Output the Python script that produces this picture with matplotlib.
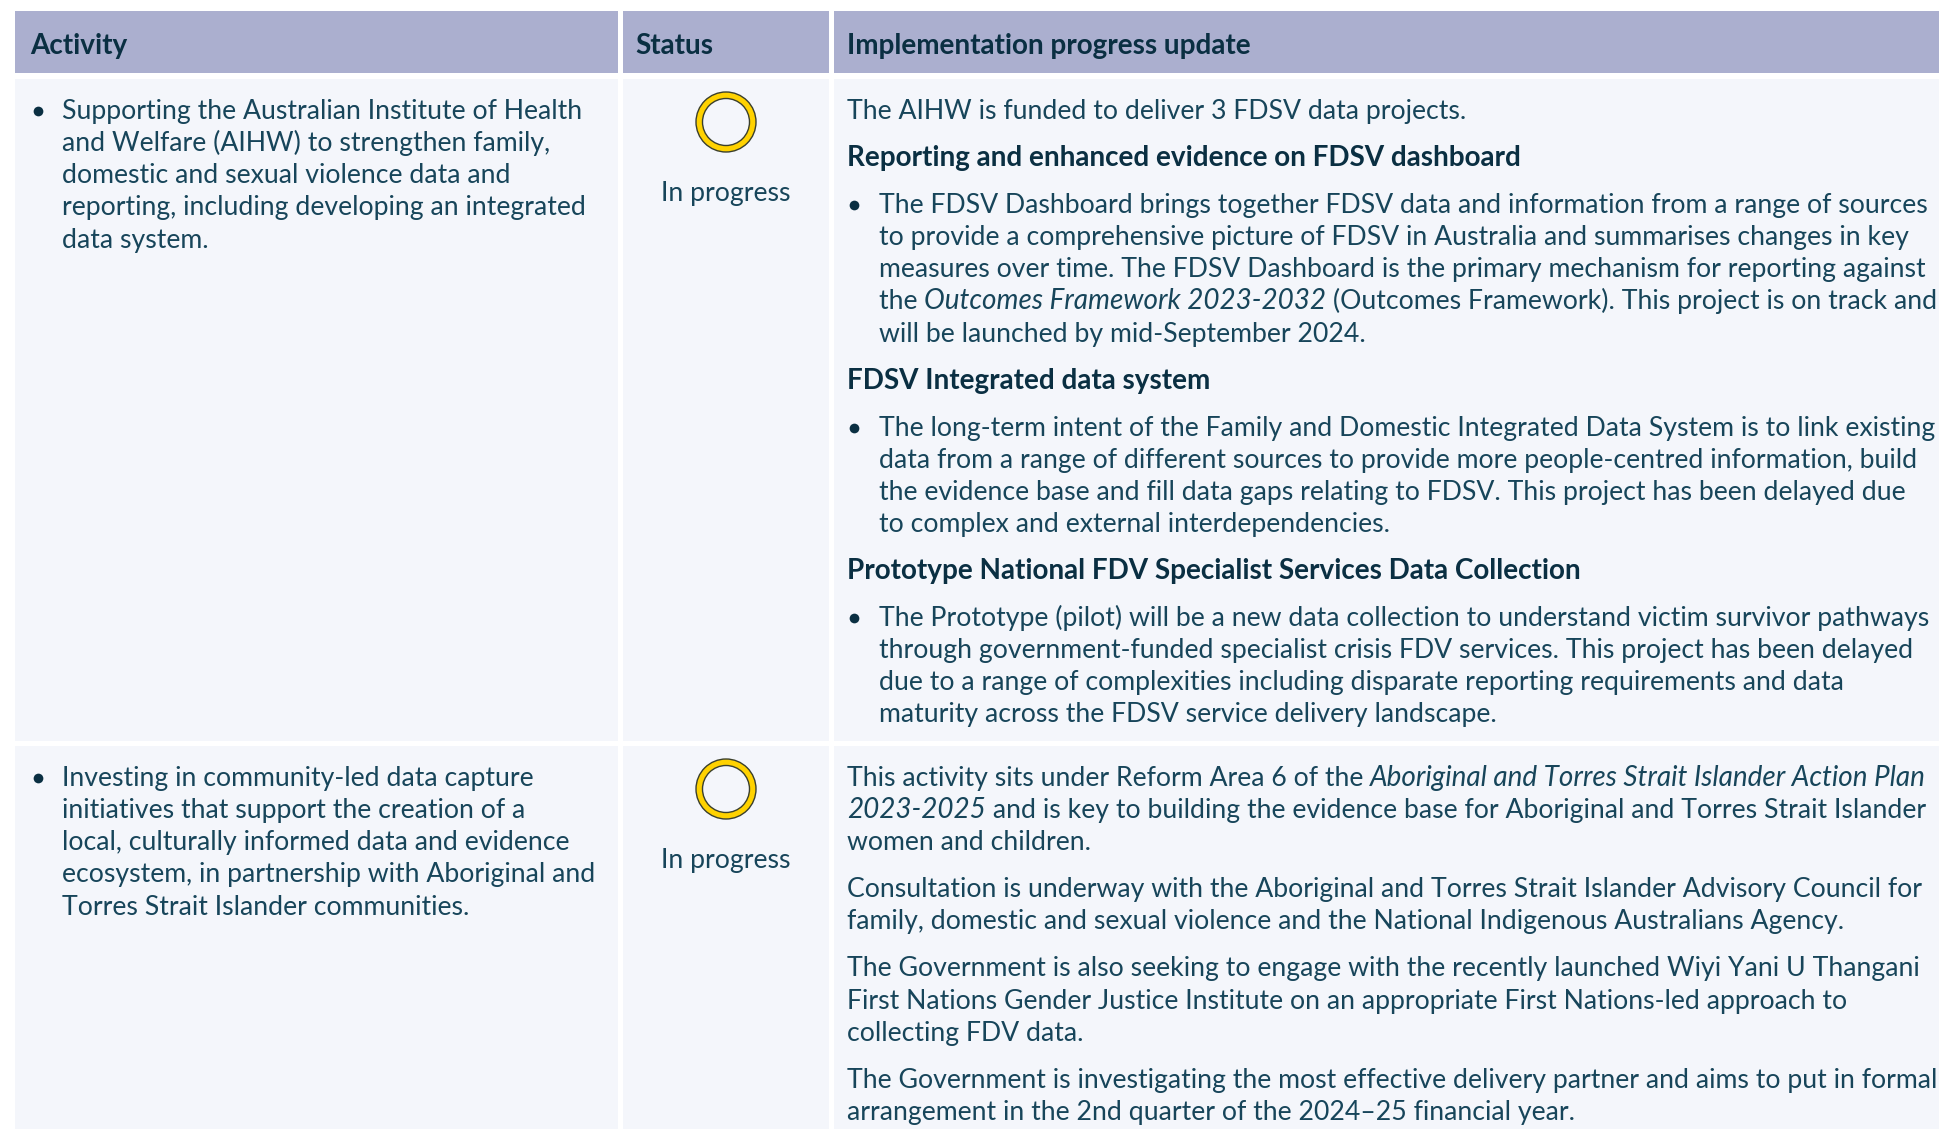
#! python3
# plot.py - progress table drawn as real text on one full-figure axes

import matplotlib
matplotlib.use('Agg')
import matplotlib.pyplot as plt
from matplotlib.patches import Rectangle, Ellipse

W, H = 1939, 1129

HEADERS = ['Activity', 'Status', 'Implementation progress update']
STATUS = ['In progress', 'In progress']

ACTIVITY_1 = [
    'Supporting the Australian Institute of Health',
    'and Welfare (AIHW) to strengthen family,',
    'domestic and sexual violence data and',
    'reporting, including developing an integrated',
    'data system.',
]
ACTIVITY_2 = [
    'Investing in community-led data capture',
    'initiatives that support the creation of a',
    'local, culturally informed data and evidence',
    'ecosystem, in partnership with Aboriginal and',
    'Torres Strait Islander communities.',
]

# (kind, lines); *...* marks italic runs
UPDATE_1 = [
    ('plain', ['The AIHW is funded to deliver 3 FDSV data projects.']),
    ('bold', ['Reporting and enhanced evidence on FDSV dashboard']),
    ('bullet', [
        'The FDSV Dashboard brings together FDSV data and information from a range of sources',
        'to provide a comprehensive picture of FDSV in Australia and summarises changes in key',
        'measures over time. The FDSV Dashboard is the primary mechanism for reporting against',
        'the *Outcomes Framework 2023-2032* (Outcomes Framework). This project is on track and',
        'will be launched by mid-September 2024.',
    ]),
    ('bold', ['FDSV Integrated data system']),
    ('bullet', [
        'The long-term intent of the Family and Domestic Integrated Data System is to link existing',
        'data from a range of different sources to provide more people-centred information, build',
        'the evidence base and fill data gaps relating to FDSV. This project has been delayed due',
        'to complex and external interdependencies.',
    ]),
    ('bold', ['Prototype National FDV Specialist Services Data Collection']),
    ('bullet', [
        'The Prototype (pilot) will be a new data collection to understand victim survivor pathways',
        'through government-funded specialist crisis FDV services. This project has been delayed',
        'due to a range of complexities including disparate reporting requirements and data',
        'maturity across the FDSV service delivery landscape.',
    ]),
]
UPDATE_2 = [
    ('plain', [
        'This activity sits under Reform Area 6 of the *Aboriginal and Torres Strait Islander Action Plan*',
        '*2023-2025* and is key to building the evidence base for Aboriginal and Torres Strait Islander',
        'women and children.',
    ]),
    ('plain', [
        'Consultation is underway with the Aboriginal and Torres Strait Islander Advisory Council for',
        'family, domestic and sexual violence and the National Indigenous Australians Agency.',
    ]),
    ('plain', [
        'The Government is also seeking to engage with the recently launched Wiyi Yani U Thangani',
        'First Nations Gender Justice Institute on an appropriate First Nations-led approach to',
        'collecting FDV data.',
    ]),
    ('plain', [
        'The Government is investigating the most effective delivery partner and aims to put in formal',
        'arrangement in the 2nd quarter of the 2024\u201325 financial year.',
    ]),
]

FONT = 'Lato'
SIZE = 19.2
SIZE_BOLD = 20.05
SIZE_ITALIC = 20.1
INK = '#17455a'
INK_BOLD = '#0a2f42'
HEAD_BG = '#abafcf'
ROW_BG = '#f4f6fb'
LINE_H = 32.15
PARA_GAP = 47.0

COLS = [(15, 618), (623, 829), (834, W + 5)]
ROWS = [(79, 741), (746, H + 5)]

fig = plt.figure(figsize=(W / 100, H / 100), dpi=100, facecolor='white')
ax = fig.add_axes([0, 0, 1, 1])
ax.set_xlim(0, W)
ax.set_ylim(H, 0)
ax.axis('off')
renderer = fig.canvas.get_renderer()


def run_size(weight, style):
    if weight == 'bold':
        return SIZE_BOLD
    return SIZE_ITALIC if style == 'italic' else SIZE


def text_width(s, weight, style):
    # pad with bars so the spaces at the ends of a run get measured
    size = run_size(weight, style)
    a = ax.text(0, 0, '|' + s + '|', fontsize=size, family=FONT, weight=weight, style=style)
    b = ax.text(0, 0, '||', fontsize=size, family=FONT, weight=weight, style=style)
    w = a.get_window_extent(renderer).width - b.get_window_extent(renderer).width
    a.remove()
    b.remove()
    return w


def draw_line(x, y, line, weight='normal', color=INK):
    parts = line.split('*')
    for i, part in enumerate(parts):
        if not part:
            continue
        style = 'italic' if i % 2 else 'normal'
        ax.text(x, y, part, fontsize=run_size(weight, style), family=FONT, color=color,
                weight=weight, style=style, va='baseline', ha='left')
        x += text_width(part, weight, style)


def bullet(x, y):
    ax.plot([x], [y - 8], 'o', ms=7, color=INK_BOLD, mew=0)


def draw_update(x, y, paras):
    for kind, lines in paras:
        for n, line in enumerate(lines):
            if kind == 'bold':
                draw_line(x, y, line, weight='bold', color=INK_BOLD)
            elif kind == 'bullet':
                if n == 0:
                    bullet(x + 7, y)
                draw_line(x + 32, y, line)
            else:
                draw_line(x, y, line)
            y += LINE_H
        y += PARA_GAP - LINE_H


def draw_activity(x, y, lines):
    bullet(x + 7, y)
    for n, line in enumerate(lines):
        draw_line(x + 31, y + n * LINE_H, line)


def draw_status(cx, top, label):
    ax.add_patch(Ellipse((cx, top + 43), 60, 60, fc='#ffd200', ec='#3a3f2c', lw=1.0))
    ax.add_patch(Ellipse((cx, top + 43), 47, 47, fc=ROW_BG, ec='#3a3f2c', lw=1.0))
    ax.text(cx, top + 122, label, fontsize=SIZE, family=FONT, color=INK,
            ha='center', va='baseline')


# header band and body cells
for (x0, x1), offset, name in zip(COLS, [15, 12, 13], HEADERS):
    ax.add_patch(Rectangle((x0, 11), x1 - x0, 62, fc=HEAD_BG, ec='none'))
    ax.text(x0 + offset, 54, name, fontsize=SIZE_BOLD, family=FONT,
            color=INK_BOLD, weight='bold', va='baseline')
    for y0, y1 in ROWS:
        ax.add_patch(Rectangle((x0, y0), x1 - x0, y1 - y0, fc=ROW_BG, ec='none'))

tops = [y0 for y0, y1 in ROWS]
activities = [ACTIVITY_1, ACTIVITY_2]
updates = [UPDATE_1, UPDATE_2]
for top, label, act, upd in zip(tops, STATUS, activities, updates):
    draw_activity(31, top + 40, act)
    draw_status(726, top, label)
    draw_update(847, top + 40, upd)

fig.savefig('out.png', dpi=100)
